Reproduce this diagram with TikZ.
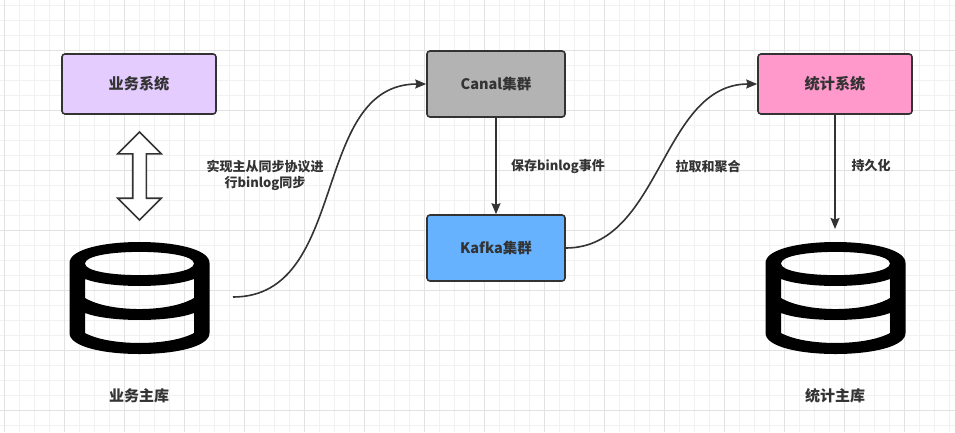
\documentclass[tikz,border=0pt]{standalone}
\usepackage{fontspec}
\setmainfont{Noto Sans CJK SC}
\usetikzlibrary{arrows.meta,shapes.arrows}

\definecolor{inkgray}{HTML}{333333}
\definecolor{gridminor}{HTML}{F1F1F1}
\definecolor{gridmajor}{HTML}{E2E2E2}
\definecolor{bizfill}{HTML}{E5CCFF}
\definecolor{canalfill}{HTML}{B3B3B3}
\definecolor{kafkafill}{HTML}{66B2FF}
\definecolor{statfill}{HTML}{FF99CC}

\tikzset{
  box/.style={draw=inkgray, line width=1.6pt, rounded corners=3pt, minimum width=#1,
    text=inkgray, font=\fontsize{15.2pt}{17pt}\selectfont\bfseries},
  latinbox/.style={box=#1, font=\fontsize{14.5pt}{17pt}\selectfont\bfseries},
  note/.style={text=inkgray, align=center, font=\fontsize{13pt}{16pt}\selectfont\bfseries},
  dbname/.style={note, font=\fontsize{15pt}{17pt}\selectfont\bfseries},
  conn/.style={draw=inkgray, line width=1.6pt, -{Stealth[length=11pt,width=9pt,inset=1.5pt]}},
  dbicon/.pic={
    \fill[black, even odd rule]
      % outer body
      (-70,-35) .. controls (-70,-63) and (70,-63) .. (70,-35)
      -- (70,35) .. controls (70,63) and (-70,63) .. (-70,35) -- cycle
      % top hole
      (-54.5,-34.5) .. controls (-54.5,-50) and (54.5,-50) .. (54.5,-34.5)
      .. controls (54.5,-19) and (-54.5,-19) .. (-54.5,-34.5) -- cycle
      % middle hole
      (-54.5,-19) .. controls (-30,-9.7) and (30,-9.7) .. (54.5,-19)
      -- (54.5,0) .. controls (30,14.7) and (-30,14.7) .. (-54.5,0) -- cycle
      % bottom hole
      (-54.5,15) .. controls (-30,24.3) and (30,24.3) .. (54.5,15)
      -- (54.5,35) .. controls (30,48.3) and (-30,48.3) .. (-54.5,35) -- cycle;
  }
}

\begin{document}
\begin{tikzpicture}[x=1pt, y=-1pt]

  \useasboundingbox (0,0) rectangle (955,432);

  % Grid
  \foreach \x in {4.5,19.5,...,955}
    \draw[gridminor, line width=1pt] (\x,0) -- (\x,432);
  \foreach \y in {5,20,...,432}
    \draw[gridminor, line width=1pt] (0,\y) -- (955,\y);
  \foreach \x in {4.5,64.5,...,955}
    \draw[gridmajor, line width=1pt] (\x,0) -- (\x,432);
  \foreach \y in {50,110,...,432}
    \draw[gridmajor, line width=1pt] (0,\y) -- (955,\y);

  % Boxes
  \node[box=154pt, minimum height=60pt, fill=bizfill] (bizsys) at (139,84) {业务系统};
  \node[latinbox=138pt, minimum height=66pt, fill=canalfill] (canal) at (496,84) {Canal集群};
  \node[latinbox=138pt, minimum height=66pt, fill=kafkafill] (kafka) at (496,248) {Kafka集群};
  \node[box=154pt, minimum height=60pt, fill=statfill] (statsys) at (835,84) {统计系统};

  % Two-way arrow under the business system
  \node[draw=inkgray, line width=1.6pt, fill=white, shape=double arrow, rotate=90,
    inner xsep=0pt, inner ysep=6pt, minimum height=88pt, double arrow head extend=15pt]
    (syncarrow) at (139.5,176) {};

  % Databases
  \pic at (139.5,298) {dbicon};
  \pic at (835.5,298) {dbicon};
  \node[dbname] (bizdb) at (139,396) {业务主库};
  \node[dbname] (statdb) at (835,396) {统计主库};

  % Free ends
  \coordinate (bizdbout) at (233,297);
  \coordinate (statdbin) at (835,229);

  % Connectors
  \draw[conn] (bizdbout) .. controls (350,297) and (310,84) .. (canal.west);
  \draw[conn] (canal.south) -- (kafka.north);
  \draw[conn] (kafka.east) .. controls (661,248) and (661,84) .. (statsys.west);
  \draw[conn] (statsys.south) -- (statdbin);

  % Labels
  \node[note] (synclabel) at (265,175) {实现主从同步协议进\\行binlog同步};
  \node[note] (savelabel) at (558,166) {保存binlog事件};
  \node[note] (pulllabel) at (708,166) {拉取和聚合};
  \node[note] (persistlabel) at (871,166) {持久化};

\end{tikzpicture}
\end{document}
